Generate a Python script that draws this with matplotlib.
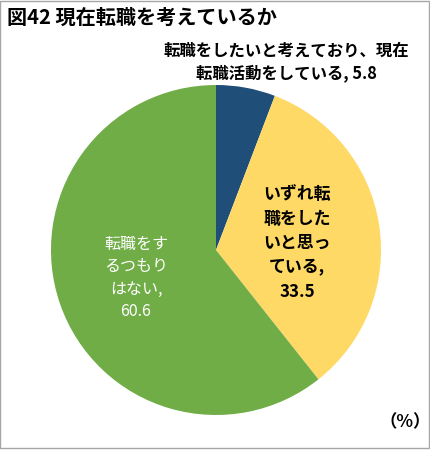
import matplotlib
matplotlib.use('Agg')
import matplotlib.pyplot as plt
import matplotlib.patches as mpatches

plt.rcParams['font.family'] = ['Noto Sans CJK JP', 'DejaVu Sans']

# data
labels = ['転職をしたいと考えており、現在\n転職活動をしている, 5.8',
          'いずれ転\n職をした\nいと思っ\nている,\n33.5',
          '転職をす\nるつもり\nはない,\n60.6']
values = [5.8, 33.5, 60.6]
colors = ['#1F4E79', '#FFD966', '#70AD47']
title = '図42 現在転職を考えているか'
unit = '（%）'

fig = plt.figure(figsize=(4.31, 4.5), dpi=100)
ax = fig.add_axes([0.1183, 0.0778, 0.7657, 0.7333])

wedges, _ = ax.pie(values, colors=colors, startangle=90, counterclock=False,
                   radius=1, wedgeprops=dict(linewidth=0))
ax.set_xlim(-1, 1)
ax.set_ylim(-1, 1)
ax.set_aspect('auto')
ax.axis('off')

# labels in pixel-ish figure coordinates
fig.text(286/431, 1 - 62/450, labels[0], ha='center', va='center',
         fontsize=11.8, fontweight='bold', linespacing=1.3)
fig.text(297/431, 1 - 243/450, labels[1], ha='center', va='center',
         fontsize=12.2, fontweight='bold', linespacing=1.45)
fig.text(136/431, 1 - 278/450, labels[2], ha='center', va='center',
         fontsize=11.5, color='white', linespacing=1.42)

fig.text(7/431, 1 - 17/450, title, ha='left', va='center',
         fontsize=14.5, fontweight='bold')
fig.text(405/431, 1 - 422/450, unit, ha='center', va='center',
         fontsize=12.5, fontweight='bold')

fig.patches.append(mpatches.Rectangle((0.5/431, 2/450), 428.5/431, 447.5/450,
                                      transform=fig.transFigure, fill=False,
                                      edgecolor='#A6A6A6', linewidth=1))

plt.savefig('out.png', dpi=100)
